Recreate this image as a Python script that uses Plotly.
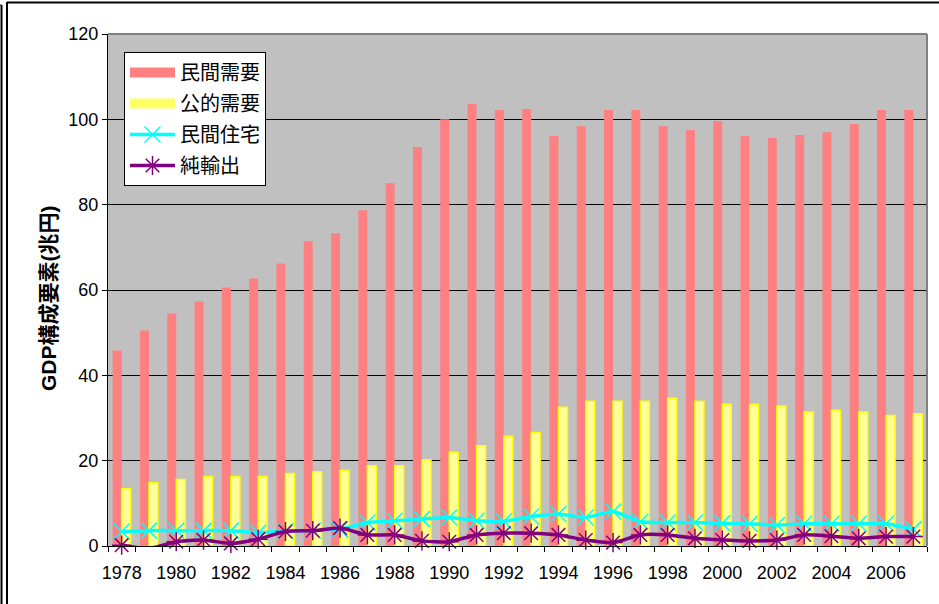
import plotly.graph_objects as go

# 年次 (1978-2007)
years = [str(y) for y in range(1978, 2008)]
tick_labels = [y if int(y) % 2 == 0 else "" for y in years]

# GDP構成要素 (兆円)
private_demand = [45.8, 50.5, 54.5, 57.3, 60.6, 62.7, 66.2, 71.4, 73.3, 78.7,
                  85.0, 93.5, 100.0, 103.6, 102.2, 102.4, 96.1, 98.4, 102.2, 102.2,
                  98.4, 97.5, 99.6, 96.1, 95.6, 96.3, 97.0, 98.9, 102.2, 102.2]
public_demand = [13.4, 14.8, 15.6, 16.3, 16.3, 16.3, 17.0, 17.4, 17.7, 18.8,
                 18.8, 20.2, 22.0, 23.5, 25.7, 26.6, 32.5, 33.9, 33.9, 33.9,
                 34.6, 33.9, 33.2, 33.2, 32.8, 31.4, 31.8, 31.4, 30.6, 31.0]
private_housing = [3.4, 3.6, 3.6, 3.6, 3.6, 3.1, 3.5, 3.6, 3.9, 5.5,
                   5.9, 6.3, 6.7, 5.9, 5.8, 6.9, 7.5, 6.7, 8.1, 5.7,
                   5.5, 5.5, 5.3, 5.2, 4.9, 5.2, 5.2, 5.2, 5.2, 3.9]
net_exports = [0.2, -0.6, 1.0, 1.4, 0.6, 1.6, 3.4, 3.6, 4.2, 2.6,
               2.6, 1.2, 1.0, 2.6, 3.0, 3.0, 2.6, 1.4, 0.8, 2.6,
               2.6, 1.8, 1.4, 1.2, 1.4, 2.6, 2.3, 1.8, 2.2, 2.2]

RED, YELLOW_FILL, YELLOW_EDGE = "#FF8080", "#FFFF99", "#FFFF00"
CYAN, PURPLE = "#00FFFF", "#800080"

W, H = 939, 604
L, R, T, B = 108, 12, 34, 58

fig = go.Figure()
# bars (legend keys drawn by the wide swatch entries below)
fig.add_trace(go.Bar(x=years, y=private_demand, name="民間需要",
                     marker=dict(color=RED, line=dict(width=0)), showlegend=False))
fig.add_trace(go.Bar(x=years, y=public_demand, name="公的需要",
                     marker=dict(color=YELLOW_FILL, line=dict(color=YELLOW_EDGE, width=1.5)),
                     showlegend=False))
# wide rectangular legend swatches for the two bar series
fig.add_trace(go.Scatter(x=[None], y=[None], name="民間需要", mode="lines",
                         line=dict(color=RED, width=12), legendgroup="a"))
fig.add_trace(go.Scatter(x=[None], y=[None], name="公的需要", mode="lines",
                         line=dict(color="#FFFF66", width=12), legendgroup="b"))
fig.add_trace(go.Scatter(x=years, y=private_housing, name="民間住宅",
                         mode="lines+markers", line=dict(color=CYAN, width=3.5, shape="spline", smoothing=0.6),
                         marker=dict(symbol="x-thin-open", size=16, color=CYAN,
                                     line=dict(color=CYAN, width=1.5)),
                         cliponaxis=False, legendgroup="c"))
fig.add_trace(go.Scatter(x=years, y=net_exports, name="純輸出",
                         mode="lines+markers", line=dict(color=PURPLE, width=3.5, shape="spline", smoothing=0.6),
                         marker=dict(symbol="asterisk-open", size=16, color=PURPLE,
                                     line=dict(color=PURPLE, width=1.5)),
                         cliponaxis=False, legendgroup="d"))

fig.update_layout(
    width=W, height=H,
    margin=dict(l=L, r=R, t=T, b=B, autoexpand=False),
    paper_bgcolor="white",
    plot_bgcolor="#C0C0C0",
    barmode="group", bargap=0.34, bargroupgap=0,
    font=dict(family="Liberation Sans, Arial, Noto Sans CJK JP", size=18, color="black"),
    showlegend=True,
    legend=dict(x=(124 - L) / (W - L - R), y=(H - B - 52) / (H - T - B),
                xanchor="left", yanchor="top",
                bgcolor="white", bordercolor="black", borderwidth=1,
                font=dict(family="Noto Sans CJK JP", size=20, color="black"),
                itemwidth=45, tracegroupgap=2, traceorder="grouped"),
    xaxis=dict(type="category", tickvals=years, ticktext=tick_labels,
               range=[-0.5, len(years) - 0.5],
               tickson="boundaries", ticks="outside", ticklen=5, tickcolor="black",
               ticklabelstandoff=10,
               showline=True, linecolor="black", linewidth=1, showgrid=False,
               tickangle=0, tickfont=dict(size=18), fixedrange=True),
    yaxis=dict(range=[0, 120], dtick=20, ticks="outside", ticklen=5, tickcolor="black",
               showline=True, linecolor="black", linewidth=1,
               showgrid=True, gridcolor="black", gridwidth=1, zeroline=False,
               tickfont=dict(size=18), fixedrange=True),
    annotations=[dict(text="<b>GDP構成要素(兆円)</b>", textangle=-90,
                      xref="paper", yref="paper",
                      x=(48 - L) / (W - L - R), y=(H - B - 298) / (H - T - B),
                      xanchor="center", yanchor="middle", showarrow=False,
                      font=dict(family="Liberation Sans, Arial, Noto Sans CJK JP", size=21))],
)

# plot-area border (top and right) and outer chart frame
px = lambda v: (v - L) / (W - L - R)
py = lambda v: (H - B - v) / (H - T - B)
shapes = [
    dict(type="line", xref="paper", yref="paper", x0=0, x1=1, y0=1, y1=1,
         line=dict(color="#808080", width=2), layer="above"),
    dict(type="line", xref="paper", yref="paper", x0=1, x1=1, y0=0, y1=1,
         line=dict(color="#808080", width=2), layer="above"),
    dict(type="line", xref="paper", yref="paper", x0=px(7), x1=px(7), y0=py(2), y1=py(604),
         line=dict(color="black", width=2)),
    dict(type="line", xref="paper", yref="paper", x0=px(7), x1=px(939), y0=py(2.5), y1=py(2.5),
         line=dict(color="black", width=2)),
    dict(type="line", xref="paper", yref="paper", x0=px(1.5), x1=px(1.5), y0=py(5), y1=py(604),
         line=dict(color="black", width=2)),
    dict(type="line", xref="paper", yref="paper", x0=px(0), x1=px(1.5), y0=py(5), y1=py(5),
         line=dict(color="black", width=1)),
]
fig.update_layout(shapes=shapes)

fig.write_html("out.html", config={"displayModeBar": False})
